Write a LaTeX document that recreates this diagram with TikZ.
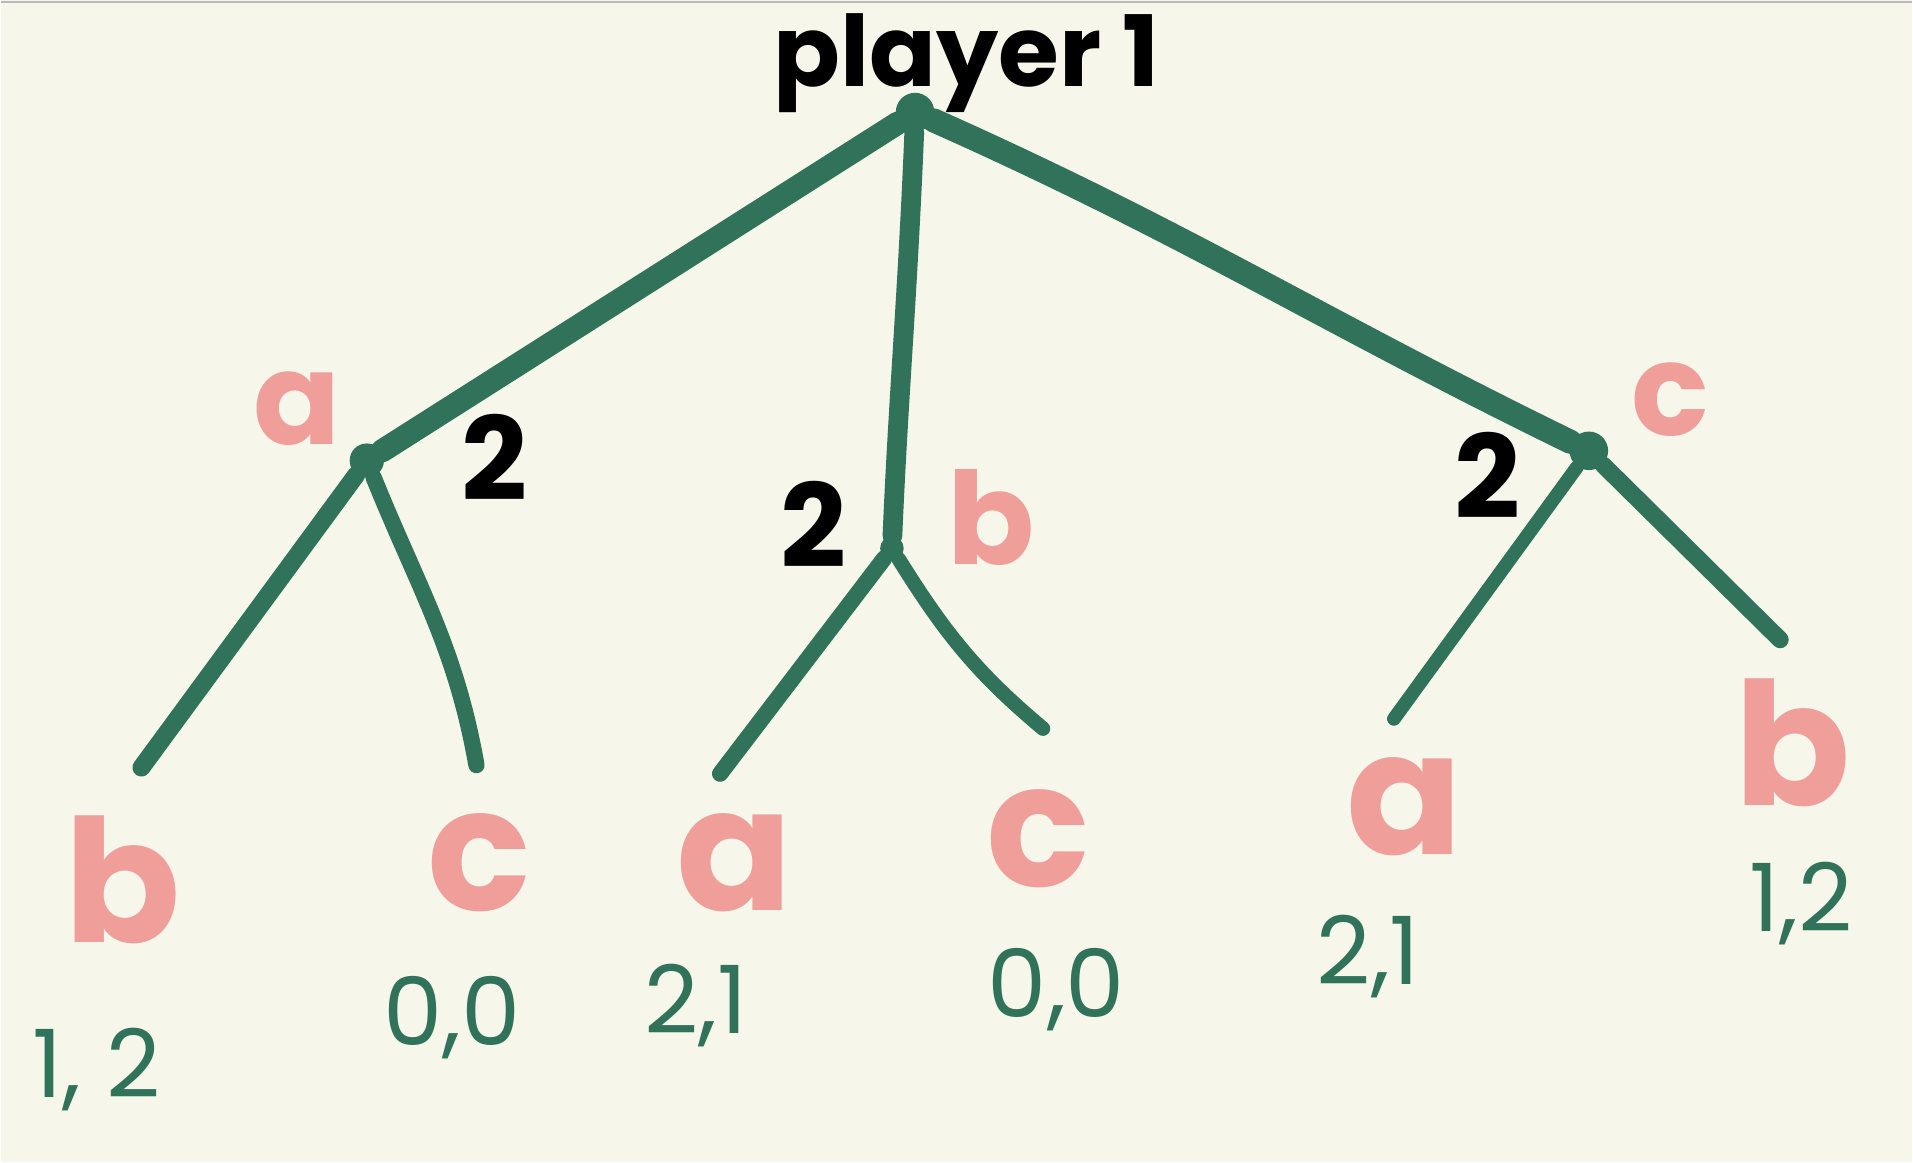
\documentclass[tikz,border=0pt]{standalone}
\usepackage{fontspec}
\setmainfont{Poppins}
\definecolor{bg}{HTML}{F6F6EB}
\definecolor{tree}{HTML}{31735A}
\definecolor{pinkl}{HTML}{F09E99}
\begin{document}
\begin{tikzpicture}[x=0.1mm,y=-0.1mm,
  blob/.style={circle,fill=tree,inner sep=0pt},
  edgeline/.style={draw=tree,line cap=round,line join=round},
  toplab/.style={text=black,font=\bfseries\fontsize{23}{25}\selectfont},
  actlab/.style={text=pinkl,font=\bfseries\fontsize{30}{32}\selectfont},
  leaflab/.style={text=pinkl,font=\bfseries\fontsize{40}{42}\selectfont},
  plab/.style={text=black,font=\bfseries\fontsize{27}{29}\selectfont},
  payoff/.style={text=tree,font=\fontsize{22}{24}\selectfont}]
\fill[bg] (0,0) rectangle (1568,954);
\draw[gray!55,line width=0.6pt] (0,1.5) -- (1568,1.5);
\useasboundingbox (0,0) rectangle (1568,954);

% decision nodes
\node[blob,minimum size=9pt] (root) at (750,92) {};
\node[blob,minimum size=8pt] (n1) at (300,378) {};
\node[blob,minimum size=5.5pt] (n2) at (731,450) {};
\node[blob,minimum size=9pt] (n3) at (1303,370) {};
% leaf ends
\coordinate (l1) at (115,630);
\coordinate (l2) at (390,628);
\coordinate (l3) at (590,635);
\coordinate (l4) at (855,598);
\coordinate (l5) at (1143,590);
\coordinate (l6) at (1460,525);

% edges
\draw[edgeline,line width=5.4pt] (root) -- (n1);
\draw[edgeline,line width=4.6pt] (root) .. controls (744,240) and (736,330) .. (n2);
\draw[edgeline,line width=5.6pt] (root) to[out=-24,in=154] (n3);
\draw[edgeline,line width=4.2pt] (n1) -- (l1);
\draw[edgeline,line width=3.8pt] (n1) to[out=-68,in=100] (l2);
\draw[edgeline,line width=3.8pt] (n2) -- (l3);
\draw[edgeline,line width=3.4pt] (n2) to[out=-58,in=140] (l4);
\draw[edgeline,line width=3.2pt] (n3) -- (l5);
\draw[edgeline,line width=4pt] (n3) -- (l6);

% title
\node[toplab] (title) at (792,52) {player 1};

% player labels
\node[plab] (p1) at (405,375) {2};
\node[plab] (p2) at (667,430) {2};
\node[plab] (p3) at (1220,390) {2};

% action labels on first-level edges
\node[actlab] (ea) at (243,335) {a};
\node[actlab] (eb) at (812,425) {b};
\node[actlab] (ec) at (1370,328) {c};

% action labels at leaves
\node[leaflab] (a1) at (100,722) {b};
\node[leaflab] (a2) at (392,708) {c};
\node[leaflab] (a3) at (602,708) {a};
\node[leaflab] (a4) at (851,688) {c};
\node[leaflab] (a5) at (1152,662) {a};
\node[leaflab] (a6) at (1470,610) {b};

% payoffs
\node[payoff] (u1) at (78,878) {1, 2};
\node[payoff] (u2) at (370,835) {0,0};
\node[payoff] (u3) at (570,825) {2,1};
\node[payoff] (u4) at (866,812) {0,0};
\node[payoff] (u5) at (1122,785) {2,1};
\node[payoff] (u6) at (1477,742) {1,2};
\end{tikzpicture}
\end{document}
